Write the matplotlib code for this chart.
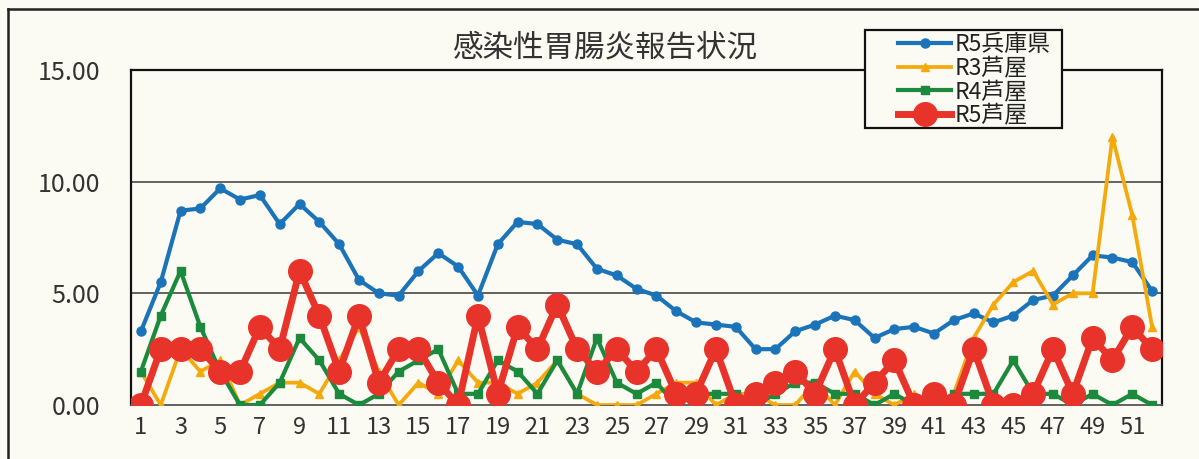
import matplotlib.pyplot as plt
from matplotlib.lines import Line2D
from matplotlib.patches import Rectangle

plt.rcParams['font.family'] = ['Noto Sans CJK JP', 'DejaVu Sans']

weeks = list(range(1, 53))

hyogo_r5 = [3.3, 5.5, 8.7, 8.8, 9.7, 9.2, 9.4, 8.1, 9.0, 8.2, 7.2, 5.6,
            5.0, 4.9, 6.0, 6.8, 6.2, 4.9, 7.2, 8.2, 8.1, 7.4, 7.2, 6.1,
            5.8, 5.2, 4.9, 4.2, 3.7, 3.6, 3.5, 2.5, 2.5, 3.3, 3.6, 4.0,
            3.8, 3.0, 3.4, 3.5, 3.2, 3.8, 4.1, 3.7, 4.0, 4.7, 4.9, 5.8,
            6.7, 6.6, 6.4, 5.1]
ashiya_r3 = [1.5, 0.0, 2.5, 1.5, 2.0, 0.0, 0.5, 1.0, 1.0, 0.5, 2.0, 3.5,
             1.5, 0.0, 1.0, 0.5, 2.0, 1.0, 1.0, 0.5, 1.0, 2.0, 0.5, 0.0,
             0.0, 0.0, 0.5, 1.0, 1.0, 0.0, 0.5, 0.5, 0.0, 0.0, 1.0, 0.0,
             1.5, 0.5, 0.0, 0.5, 0.0, 0.5, 3.0, 4.5, 5.5, 6.0, 4.5, 5.0,
             5.0, 12.0, 8.5, 3.5]
ashiya_r4 = [1.5, 4.0, 6.0, 3.5, 1.5, 0.0, 0.0, 1.0, 3.0, 2.0, 0.5, 0.0,
             0.5, 1.5, 2.0, 2.5, 0.5, 0.5, 2.0, 1.5, 0.5, 2.0, 0.5, 3.0,
             1.0, 0.5, 1.0, 0.0, 0.5, 0.5, 0.5, 0.0, 0.5, 1.0, 1.0, 0.5,
             0.5, 0.0, 0.5, 0.0, 0.0, 0.5, 0.5, 0.5, 2.0, 0.5, 0.5, 0.0,
             0.5, 0.0, 0.5, 0.0]
ashiya_r5 = [0.0, 2.5, 2.5, 2.5, 1.5, 1.5, 3.5, 2.5, 6.0, 4.0, 1.5, 4.0,
             1.0, 2.5, 2.5, 1.0, 0.0, 4.0, 0.5, 3.5, 2.5, 4.5, 2.5, 1.5,
             2.5, 1.5, 2.5, 0.5, 0.5, 2.5, 0.0, 0.5, 1.0, 1.5, 0.5, 2.5,
             0.0, 1.0, 2.0, 0.0, 0.5, 0.0, 2.5, 0.0, 0.0, 0.5, 2.5, 0.5,
             3.0, 2.0, 3.5, 2.5]

labels = ['R5兵庫県', 'R3芦屋', 'R4芦屋', 'R5芦屋']
title = '感染性胃腸炎報告状況'

bg = '#fbfaf3'

fig = plt.figure(figsize=(11.99, 4.59), dpi=100, facecolor=bg)
ax = fig.add_axes([131 / 1199, 54 / 459, 1031 / 1199, 335 / 459])
ax.set_facecolor(bg)

ax.plot(weeks, hyogo_r5, color='#1b74b9', lw=3.0, marker='o', ms=6.5, label=labels[0], zorder=3)
ax.plot(weeks, ashiya_r3, color='#f4a90c', lw=2.7, marker='^', ms=6, label=labels[1], zorder=4)
ax.plot(weeks, ashiya_r4, color='#1b8a3c', lw=3.0, marker='s', ms=6, label=labels[2], zorder=5)
ax.plot(weeks, ashiya_r5, color='#e8332a', lw=5.0, marker='o', ms=17, label=labels[3], zorder=6)

ax.set_xlim(0.5, 52.5)
ax.set_ylim(0, 15)
ax.set_yticks([0, 5, 10, 15])
ax.set_yticklabels(['0.00', '5.00', '10.00', '15.00'], fontsize=18, color='#333333')
ax.set_xticks(weeks[::2])
ax.set_xticklabels([str(w) for w in weeks[::2]], fontsize=17, color='#333333')
ax.tick_params(axis='y', length=0, pad=22)
ax.tick_params(axis='x', length=0, pad=8)
for y in [5, 10]:
    ax.axhline(y, color='#555555', lw=1.3, zorder=1)
for s in ax.spines.values():
    s.set_color('#111111')
    s.set_linewidth(1.6)
ax.spines['bottom'].set_color('#555555')
ax.spines['bottom'].set_linewidth(1.3)

fig.text(605 / 1199, 1 - 48 / 459, title, fontsize=22, color='#333333', ha='center', va='center')

# legend box drawn separately so the entries can sit inset like the original
ax.add_patch(Rectangle((865 / 1199, 1 - 128 / 459), 197 / 1199, 98 / 459, transform=fig.transFigure,
                       facecolor=bg, edgecolor='#111111', lw=1.6, zorder=9, clip_on=False))
leg = ax.legend(loc='upper left', bbox_to_anchor=(896 / 1199, 1 - 31 / 459), bbox_transform=fig.transFigure,
                fontsize=16.5, frameon=False, handlelength=2.3, handletextpad=0.15,
                labelspacing=0.02, borderpad=0.1, borderaxespad=0)
leg.set_zorder(10)
for t in leg.get_texts():
    t.set_color('#222222')

fig.add_artist(Line2D([8 / 1199, 1], [1 - 9 / 459, 1 - 9 / 459], transform=fig.transFigure, color='#222222', lw=1.8))
fig.add_artist(Line2D([8 / 1199, 8 / 1199], [0, 1 - 9 / 459], transform=fig.transFigure, color='#222222', lw=1.8))

fig.savefig('out.png', dpi=100, facecolor=bg)
